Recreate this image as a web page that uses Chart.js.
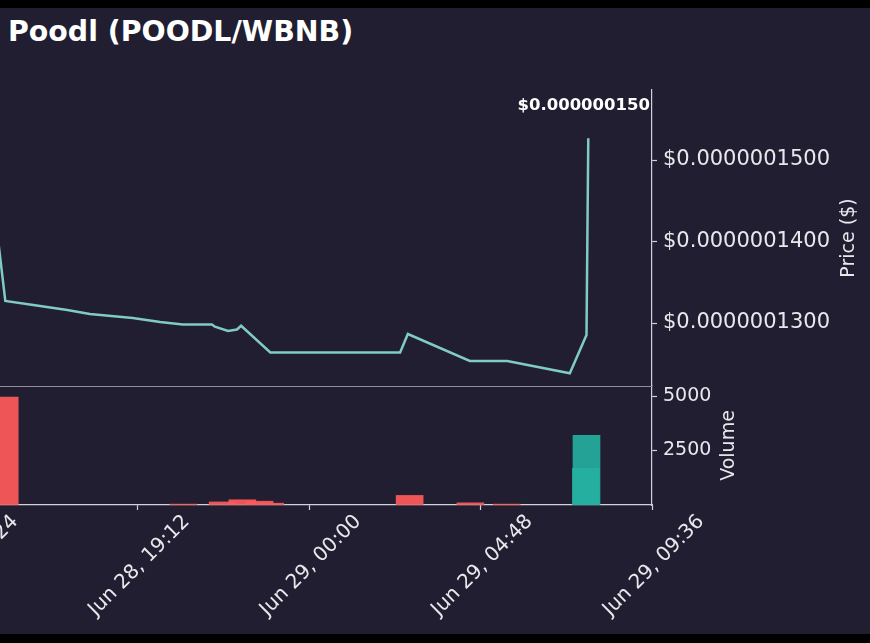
<!DOCTYPE html>
<html>
<head>
<meta charset="utf-8">
<script src="https://cdn.jsdelivr.net/npm/chart.js@4.4.0/dist/chart.umd.min.js"></script>
<style>
  html, body { margin: 0; padding: 0; background: #000; width: 870px; height: 643px; overflow: hidden; }
  #panel { position: absolute; left: 0; top: 8px; width: 870px; height: 626px; background: #201e30; }
  #title { position: absolute; left: 8px; top: 18px; font: bold 28.4px 'DejaVu Sans'; line-height: 28px; color: #ffffff; white-space: nowrap; }
  #chart { position: absolute; left: -154px; top: 0; }
</style>
</head>
<body>
<div id="panel"></div>
<div id="title">Poodl (POODL/WBNB)</div>
<canvas id="chart" width="1024" height="643"></canvas>
<script>
// time axis is in minutes since Jun 28, 00:00
const xTickTimes = [864, 1152, 1440, 1728, 2016];
const xTickLabels = ["Jun 28, 14:24", "Jun 28, 19:12", "Jun 29, 00:00", "Jun 29, 04:48", "Jun 29, 09:36"];

// price line
const priceTimes = [911, 930, 977, 1034, 1072, 1144, 1190, 1228, 1277, 1282, 1304, 1319, 1326, 1375, 1593, 1606, 1710, 1773, 1878, 1906, 1909];
const priceValues = [
    1.4448e-7, 1.3270e-7, 1.3221e-7, 1.3160e-7, 1.3110e-7, 1.3061e-7, 1.3012e-7,
    1.2982e-7, 1.2982e-7, 1.2955e-7, 1.2902e-7, 1.2920e-7, 1.2966e-7, 1.2638e-7,
    1.2638e-7, 1.2865e-7, 1.2534e-7, 1.2534e-7, 1.2383e-7, 1.2853e-7, 1.5266e-7
];
const priceTicks = [1.3e-7, 1.4e-7, 1.5e-7];
const peakLabel = "$0.000000150";

// volume bars
const sellTimes = [929, 1229, 1295, 1328, 1357, 1375, 1609, 1711, 1772];
const sellVolumes = [4950, 40, 140, 240, 175, 85, 440, 100, 40];
const buyTimes = [1906, 1905];
const buyVolumes = [3200, 1680];
const volumeTicks = [2500, 5000];

const textColor = "#e8e8ec";
const axisColor = "#d2d2da";
const font = "DejaVu Sans";

// ---------------- extra drawing: divider, axis titles, note ----------------

const extras = {
    id: "extras",
    beforeDatasetsDraw(chart) {
        const { ctx, chartArea, scales } = chart;
        ctx.save();
        ctx.strokeStyle = "#8f8e9e";
        ctx.lineWidth = 1;
        ctx.beginPath();
        ctx.moveTo(chartArea.left, Math.round(scales.y.bottom) + 0.5);
        ctx.lineTo(chartArea.right, Math.round(scales.y.bottom) + 0.5);
        ctx.stroke();
        ctx.restore();
    },
    afterDraw(chart) {
        const { ctx, chartArea, scales } = chart;
        ctx.save();
        ctx.fillStyle = textColor;
        ctx.font = "19px '" + font + "'";
        ctx.textAlign = "center";
        ctx.textBaseline = "middle";
        [[scales.y, "Price ($)", 197], [scales.yv, "Volume", 77]].forEach(([scale, text, dx]) => {
            ctx.save();
            ctx.translate(chartArea.right + dx, (scale.top + scale.bottom) / 2);
            ctx.rotate(-Math.PI / 2);
            ctx.fillText(text, 0, 0);
            ctx.restore();
        });

        ctx.fillStyle = "#ffffff";
        ctx.font = "bold 16.5px '" + font + "'";
        ctx.textAlign = "right";
        ctx.textBaseline = "alphabetic";
        ctx.fillText(peakLabel, chartArea.right - 2, chartArea.top + 20);
        ctx.restore();
    }
};

const tickGrid = {
    display: true,
    drawOnChartArea: false,
    offset: false,
    tickLength: 5,
    tickWidth: 1.2,
    color: axisColor
};

new Chart(document.getElementById("chart"), {
    type: "line",
    data: {
        datasets: [
            {
                type: "line",
                data: priceTimes.map((t, i) => ({ x: t, y: priceValues[i] })),
                yAxisID: "y",
                borderColor: "#80cbc4",
                borderWidth: 2.5,
                pointRadius: 0,
                tension: 0
            },
            {
                type: "bar",
                data: sellTimes.map((t, i) => ({ x: t, y: sellVolumes[i] })),
                yAxisID: "yv",
                backgroundColor: "rgba(255, 90, 90, 0.92)",
                barThickness: 27,
                grouped: false
            },
            {
                type: "bar",
                data: buyTimes.map((t, i) => ({ x: t, y: buyVolumes[i] })),
                yAxisID: "yv",
                backgroundColor: "rgba(38, 176, 162, 0.9)",
                barThickness: 27,
                grouped: false
            }
        ]
    },
    options: {
        responsive: false,
        animation: false,
        layout: { padding: { left: 120, top: 90, right: 0, bottom: 0 } },
        plugins: {
            legend: { display: false },
            tooltip: { enabled: false }
        },
        scales: {
            x: {
                type: "linear",
                min: 864,
                max: 2016,
                offset: false,
                afterBuildTicks: (scale) => { scale.ticks = xTickTimes.map(v => ({ value: v })); },
                afterFit: (scale) => { scale.height = 138; },
                grid: tickGrid,
                border: { display: true, color: axisColor, width: 1.2 },
                ticks: {
                    color: textColor,
                    font: { family: font, size: 20 },
                    minRotation: 45,
                    maxRotation: 45,
                    autoSkip: false,
                    labelOffset: 49,
                    padding: 0,
                    callback: (v, i) => xTickLabels[i]
                }
            },
            y: {
                position: "right",
                stack: "panels",
                stackWeight: 296,
                min: 1.2227e-7,
                max: 1.5859e-7,
                afterBuildTicks: (scale) => { scale.ticks = priceTicks.map(v => ({ value: v })); },
                afterFit: (scale) => { scale.width = 218; },
                grid: tickGrid,
                border: { display: true, color: axisColor, width: 1.2 },
                ticks: {
                    color: textColor,
                    font: { family: font, size: 21 },
                    padding: 6,
                    callback: (v) => "$" + v.toFixed(10)
                }
            },
            yv: {
                position: "right",
                stack: "panels",
                stackWeight: 119,
                min: 0,
                max: 5461,
                afterBuildTicks: (scale) => { scale.ticks = volumeTicks.map(v => ({ value: v })); },
                afterFit: (scale) => { scale.width = 218; },
                grid: tickGrid,
                border: { display: true, color: axisColor, width: 1.2 },
                ticks: {
                    color: textColor,
                    font: { family: font, size: 19 },
                    padding: 6,
                    callback: (v) => String(v)
                }
            }
        }
    },
    plugins: [extras]
});
</script>
</body>
</html>
